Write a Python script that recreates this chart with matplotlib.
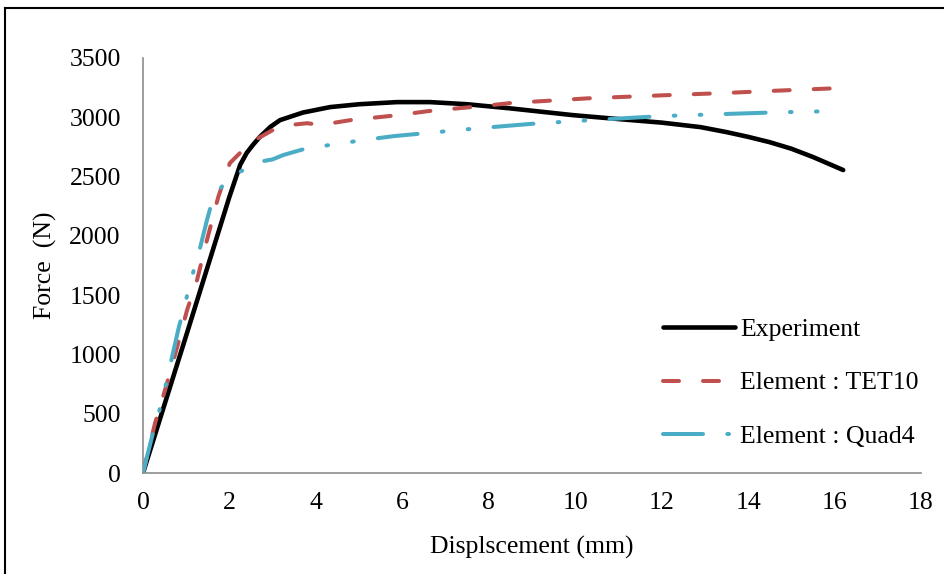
import matplotlib
matplotlib.use("Agg")
import matplotlib.pyplot as plt
from matplotlib.lines import Line2D

plt.rcParams['font.family'] = ['Liberation Serif', 'DejaVu Serif']
plt.rcParams['lines.scale_dashes'] = False

# data (displacement mm, force N)
exp_x = [0, 0.5, 1.0, 1.5, 2.0, 2.25, 2.4, 2.55, 2.7, 2.95, 3.17, 3.7,
         4.33, 5.0, 5.88, 6.64, 7.5, 8.5, 9.95, 11.0, 12.0, 12.9, 13.5, 14.0, 14.5,
         15.0, 15.5, 16.2]
exp_y = [0, 580, 1160, 1745, 2330, 2600, 2700, 2770, 2833, 2920, 2976, 3040,
         3086, 3110, 3128, 3128, 3110, 3075, 3018, 2985, 2955, 2917, 2875, 2835, 2790,
         2735, 2665, 2555]

tet_x = [0, 0.28, 0.51, 0.79, 1.02, 1.25, 1.48, 1.74, 2.01, 2.31, 2.65, 3.0, 3.4, 3.8,
         4.1, 4.8, 5.9, 6.6, 8.0, 8.5, 10.3, 12.0, 13.4, 14.7, 16.1]
tet_y = [0, 422, 700, 1062, 1374, 1627, 1965, 2327, 2614, 2723, 2820, 2892, 2935, 2950,
         2935, 2976, 3018, 3052, 3100, 3120, 3160, 3185, 3204, 3225, 3246]

quad_x = [0, 0.23, 0.37, 0.51, 0.62, 0.83, 0.97, 1.09, 1.25, 1.48, 1.62, 1.94, 2.2, 2.4,
          2.7, 3.0, 3.24, 3.8, 4.3, 5.1, 5.8, 6.8, 7.8, 9.0, 10.35, 12.0, 13.4, 14.7, 16.0]
quad_y = [0, 337, 514, 717, 894, 1231, 1417, 1611, 1796, 2133, 2318, 2470, 2530, 2572,
          2625, 2645, 2681, 2740, 2765, 2808, 2841, 2875, 2909, 2945, 2976, 3010, 3027,
          3042, 3052]

labels = ['Experiment', 'Element : TET10', 'Element : Quad4']
colors = ['#000000', '#C0504D', '#4BACC6']
fs = 18.5

fig = plt.figure(figsize=(9.45, 5.74), dpi=100)
ax = fig.add_axes([143 / 945, 1 - 473 / 574, 778 / 945, 415 / 574])

l1, = ax.plot(exp_x, exp_y, color=colors[0], lw=3.3, solid_capstyle='round',
              solid_joinstyle='round', label=labels[0], zorder=2)
l2, = ax.plot(tet_x, tet_y, color=colors[1], lw=2.9, dash_capstyle='round',
              dash_joinstyle='round', label=labels[1], zorder=3)
l2.set_dashes((11.5, 17.3))
l3, = ax.plot(quad_x, quad_y, color=colors[2], lw=2.9, dash_capstyle='round',
              dash_joinstyle='round', label=labels[2], zorder=4)
l3.set_dashes((28.8, 17.5, 1.2, 17.5, 1.2, 17.5))

ax.set_xlim(0, 18)
ax.set_ylim(0, 3500)
ax.set_xticks(range(0, 19, 2))
ax.set_yticks(range(0, 3501, 500))
ax.tick_params(length=0, labelsize=fs)
ax.tick_params(axis='y', pad=16)
ax.tick_params(axis='x', pad=13.5)
for s in ['top', 'right']:
    ax.spines[s].set_visible(False)
for s in ['left', 'bottom']:
    ax.spines[s].set_color('#8c8c8c')
    ax.spines[s].set_linewidth(1.2)

fig.text(532 / 945, 1 - 547 / 574, 'Displscement (mm)', fontsize=fs,
         ha='center', va='center')
fig.text(45 / 945, 1 - 265 / 574, 'Force  (N)', fontsize=fs, rotation=90,
         ha='center', va='center')

fig.legend(handles=[l1, l2, l3], loc='center left',
           bbox_to_anchor=(663 / 945, 1 - 383 / 574), frameon=False,
           fontsize=fs, handlelength=2.8, handletextpad=0.2,
           labelspacing=1.2, borderpad=0, borderaxespad=0)

# outer border (only top and left are inside the picture)
fig.add_artist(Line2D([5 / 945, 1.0], [1 - 8 / 574, 1 - 8 / 574],
                      transform=fig.transFigure, color='black', lw=1.5))
fig.add_artist(Line2D([5 / 945, 5 / 945], [0, 1 - 8 / 574],
                      transform=fig.transFigure, color='black', lw=1.5))

fig.savefig('out.png', dpi=100)
